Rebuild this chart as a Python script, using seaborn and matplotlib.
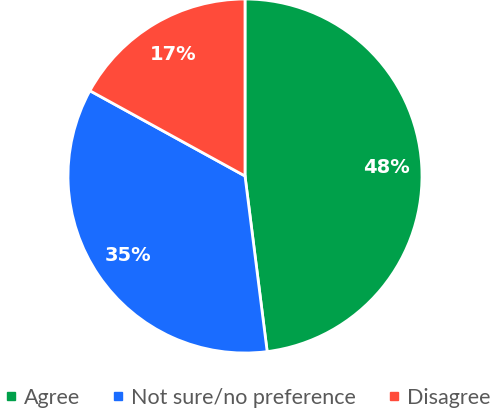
import matplotlib
matplotlib.use("Agg")
import matplotlib.pyplot as plt
import seaborn as sns
from matplotlib.lines import Line2D

categories = ["Agree", "Not sure/no preference", "Disagree"]
values = [48, 35, 17]
colors = ["#00A04A", "#1A6CFF", "#FF4B3A"]

sns.set_theme(style="white")
plt.rcParams['font.family'] = ['Lato', 'DejaVu Sans']

W, H = 494, 411
fig = plt.figure(figsize=(W / 100, H / 100), dpi=100)
cx, cy, r = 245, 176, 177
ax = fig.add_axes([(cx - r) / W, (H - cy - r) / H, 2 * r / W, 2 * r / H])
wedges, texts, autotexts = ax.pie(
    values, colors=sns.color_palette(colors), startangle=90, counterclock=False,
    autopct=lambda p: f"{p:.0f}%", pctdistance=0.8,
    wedgeprops=dict(edgecolor="white", linewidth=2),
    textprops=dict(color="white", fontsize=14, fontweight="bold",
                   family=["DejaVu Sans"], fontstyle="normal"),
    radius=1.0)
ax.set_xlim(-1.0, 1.0)
ax.set_ylim(-1.0, 1.0)
ax.set_aspect("equal")
ax.axis("off")

handles = [Line2D([0], [0], marker="s", linestyle="", markersize=6,
                  markerfacecolor=c, markeredgecolor=c) for c in colors]
fig.legend(handles, categories, loc="center", bbox_to_anchor=(0.5, 1 - 398 / H),
           ncol=3, frameon=False, fontsize=15.5, labelcolor="#595959",
           handletextpad=0.25, columnspacing=1.4, handlelength=0.7,
           borderpad=0, borderaxespad=0)

fig.savefig("out.png", dpi=100)
